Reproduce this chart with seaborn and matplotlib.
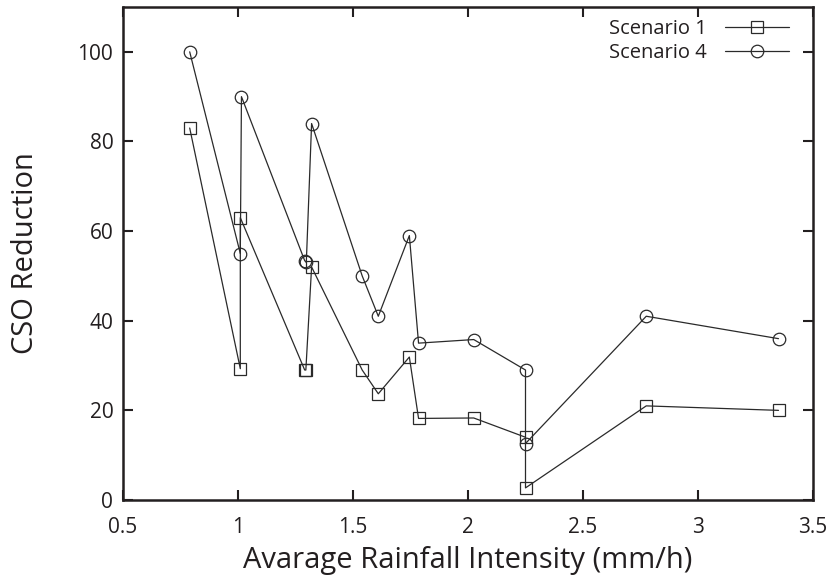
import matplotlib
matplotlib.use("Agg")
import matplotlib.pyplot as plt
import seaborn as sns
import pandas as pd

# values in the order the curves were drawn (not sorted by x)
intensity_s1 = [0.79, 1.01, 1.01, 1.29, 1.295, 1.32, 1.54, 1.61, 1.745, 1.785, 2.025, 2.25, 2.25, 2.775, 3.35]
reduction_s1 = [83, 29.3, 63, 29, 29, 52, 29, 23.7, 31.9, 18.2, 18.3, 14, 2.7, 21, 20]
intensity_s4 = [0.79, 1.01, 1.015, 1.29, 1.297, 1.32, 1.54, 1.61, 1.745, 1.785, 2.025, 2.25, 2.25, 2.775, 3.35]
reduction_s4 = [100, 55, 90, 53.4, 53, 84, 50, 41, 59, 35, 35.8, 29, 12.6, 41, 36]

x_ticks = [0.5, 1, 1.5, 2, 2.5, 3, 3.5]
x_tick_labels = ["0.5", "1", "1.5", "2", "2.5", "3", "3.5"]
y_ticks = [0, 20, 40, 60, 80, 100]

sns.set_style("ticks")
plt.rcParams["font.family"] = ["Open Sans", "DejaVu Sans"]
ink = "#231f20"

df1 = pd.DataFrame({"x": intensity_s1, "y": reduction_s1})
df4 = pd.DataFrame({"x": intensity_s4, "y": reduction_s4})

fig = plt.figure(figsize=(8.35, 5.8), dpi=100)
ax = fig.add_axes([123 / 835, 80 / 580, 690 / 835, 493 / 580])

style = dict(color="#2a2a2a", linewidth=0.9, markersize=9, markerfacecolor="none",
             markeredgecolor="#2a2a2a", markeredgewidth=0.9, sort=False, estimator=None)
sns.lineplot(data=df1, x="x", y="y", marker="s", label="Scenario 1", ax=ax, **style)
sns.lineplot(data=df4, x="x", y="y", marker="o", label="Scenario 4", ax=ax, **style)

ax.set_xlim(0.5, 3.5)
ax.set_ylim(0, 110)
ax.set_xticks(x_ticks)
ax.set_xticklabels(x_tick_labels)
ax.set_yticks(y_ticks)
ax.tick_params(direction="in", length=7, width=1.5, top=True, right=True,
               labelsize=15, colors=ink, pad=7)
ax.tick_params(axis="x", pad=12)
for s in ax.spines.values():
    s.set_linewidth(1.8)
    s.set_color(ink)

ax.set_xlabel("Avarage Rainfall Intensity (mm/h)", fontsize=21, color=ink, labelpad=6)
ax.set_ylabel("CSO Reduction", fontsize=21, color=ink, labelpad=27)

leg = ax.legend(loc="upper right", bbox_to_anchor=(0.983, 1.0), frameon=False,
                markerfirst=False, fontsize=14.5, handlelength=3.2, handletextpad=0.9,
                labelspacing=0.2, borderaxespad=0.2, borderpad=0.4)
for t in leg.get_texts():
    t.set_color(ink)

fig.savefig("out.png", dpi=100)
